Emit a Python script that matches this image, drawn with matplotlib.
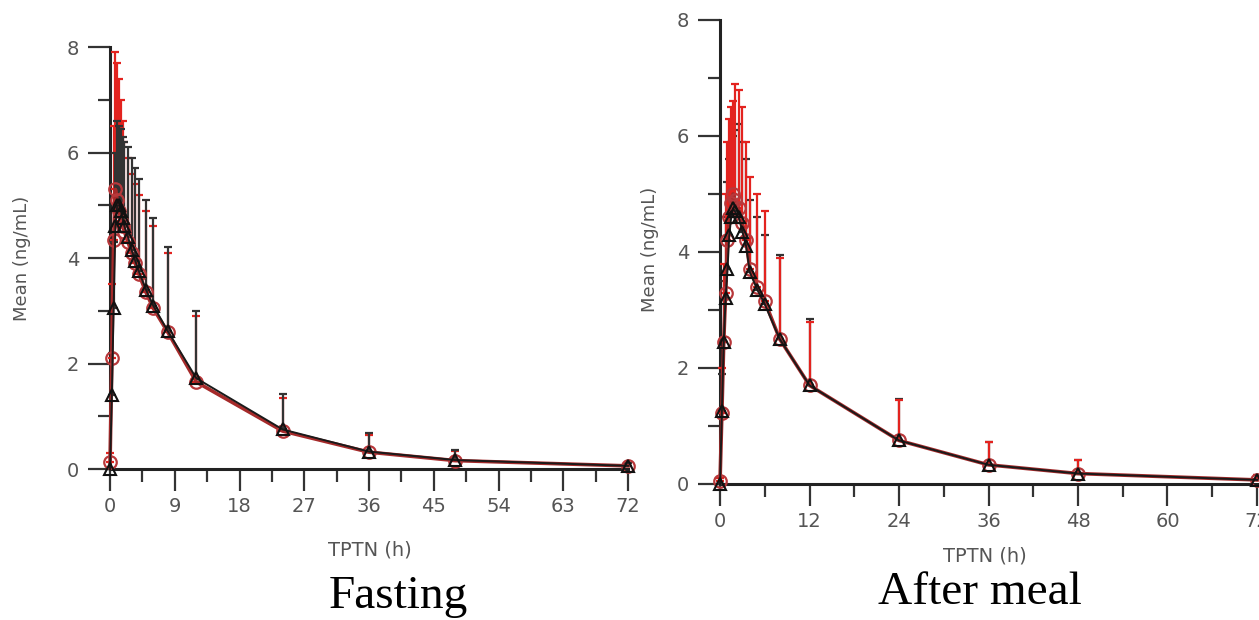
import numpy as np
import matplotlib.pyplot as plt

# sampling times (h)
t = [0, 0.25, 0.5, 0.75, 1, 1.25, 1.5, 1.75, 2, 2.5, 3, 3.5, 4, 5, 6, 8, 12, 24, 36, 48, 72]

# Fasting - red circles / black triangles (mean and top of the SD bar)
fast_red = [0.13, 2.1, 4.35, 5.3, 5.1, 4.9, 4.7, 4.6, 4.5, 4.3, 4.1, 3.9, 3.7, 3.35, 3.05, 2.6, 1.65, 0.72, 0.32, 0.16, 0.06]
fast_red_top = [0.3, 3.5, 6.5, 7.9, 7.7, 7.4, 7.0, 6.6, 6.2, 5.9, 5.6, 5.4, 5.2, 4.9, 4.6, 4.1, 2.9, 1.35, 0.65, 0.35, 0.12]
fast_blk = [0.0, 1.4, 3.05, 4.6, 5.0, 5.0, 4.9, 4.75, 4.6, 4.4, 4.15, 3.95, 3.75, 3.4, 3.1, 2.62, 1.72, 0.75, 0.33, 0.17, 0.06]
fast_blk_top = [0.0, 2.2, 4.3, 6.0, 6.6, 6.5, 6.45, 6.3, 6.2, 6.1, 5.9, 5.7, 5.5, 5.1, 4.75, 4.2, 3.0, 1.42, 0.68, 0.37, 0.12]

# After meal
meal_red = [0.05, 1.22, 2.45, 3.3, 4.2, 4.6, 4.85, 5.0, 4.9, 4.75, 4.5, 4.2, 3.7, 3.4, 3.15, 2.5, 1.7, 0.75, 0.33, 0.18, 0.07]
meal_red_top = [0.1, 2.0, 3.8, 5.0, 5.9, 6.3, 6.5, 6.6, 6.9, 6.8, 6.5, 5.9, 5.3, 5.0, 4.7, 3.9, 2.8, 1.45, 0.72, 0.42, 0.15]
meal_blk = [0.0, 1.25, 2.45, 3.2, 3.7, 4.3, 4.6, 4.75, 4.7, 4.6, 4.35, 4.1, 3.65, 3.35, 3.1, 2.5, 1.7, 0.75, 0.33, 0.18, 0.07]
meal_blk_top = [0.0, 1.9, 3.5, 4.6, 5.2, 5.6, 5.9, 6.0, 6.1, 6.2, 5.9, 5.6, 4.9, 4.6, 4.3, 3.95, 2.85, 1.47, 0.73, 0.42, 0.15]

fig = plt.figure(figsize=(12.59, 6.2), dpi=100)
ax1 = fig.add_axes([0.0874, 0.2435, 0.4114, 0.6806])
ax2 = fig.add_axes([0.5719, 0.2194, 0.4265, 0.7484])


def draw(ax, red, red_top, blk, blk_top, xstep, red_on_top):
    red = np.array(red)
    blk = np.array(blk)
    red_err = [np.zeros(len(t)), np.array(red_top) - red]
    blk_err = [np.zeros(len(t)), np.array(blk_top) - blk]
    zr, zb = (4, 3) if red_on_top else (3, 4)
    ax.errorbar(t, red, yerr=red_err, fmt='none', ecolor='#e3231f', elinewidth=1.6,
                capsize=3, capthick=1.6, zorder=zr, clip_on=False)
    ax.errorbar(t, blk, yerr=blk_err, fmt='none', ecolor='#333333', elinewidth=1.6,
                capsize=3, capthick=1.6, zorder=zb, clip_on=False)
    ax.plot(t, red, color='#a52a2a', lw=2.6, marker='o', ms=9, mfc='none',
            mec='#b8383b', mew=1.6, zorder=5, clip_on=False)
    ax.plot(t, blk, color='#1a1a1a', lw=1.4, marker='^', ms=9, mfc='none',
            mec='#111111', mew=1.5, zorder=6, clip_on=False)

    ax.set_xlim(0, 72)
    ax.set_ylim(0, 8)
    ax.set_xticks(np.arange(0, 73, xstep))
    ax.set_xticks(np.arange(xstep / 2, 73, xstep), minor=True)
    ax.set_yticks([0, 2, 4, 6, 8])
    ax.set_yticks([1, 3, 5, 7], minor=True)
    for s in ['top', 'right']:
        ax.spines[s].set_visible(False)
    for s in ['left', 'bottom']:
        ax.spines[s].set_linewidth(2.2)
        ax.spines[s].set_color('#222222')
    ax.tick_params(which='major', length=16, width=1.6, color='#333333',
                   labelsize=14, labelcolor='#555555')
    ax.tick_params(which='minor', length=9, width=1.6, color='#333333')
    ax.tick_params(axis='y', which='major', pad=6)
    ax.tick_params(axis='x', which='major', pad=4)


draw(ax1, fast_red, fast_red_top, fast_blk, fast_blk_top, 9, False)
draw(ax2, meal_red, meal_red_top, meal_blk, meal_blk_top, 12, True)

lab = dict(color='#555555', fontsize=13, ha='center', va='center')
fig.text(0.0175, 0.584, 'Mean (ng/mL)', rotation=90, **lab)
fig.text(0.516, 0.597, 'Mean (ng/mL)', rotation=90, **lab)
xl = dict(color='#555555', fontsize=14, ha='center', va='center')
fig.text(0.294, 0.113, 'TPTN (h)', **xl)
fig.text(0.782, 0.103, 'TPTN (h)', **xl)

big = dict(fontsize=34, family='Liberation Serif', ha='center', va='center')
fig.text(0.316, 0.037, 'Fasting', **big)
fig.text(0.778, 0.044, 'After meal', **big)

fig.savefig('out.png', dpi=100, facecolor='white')
